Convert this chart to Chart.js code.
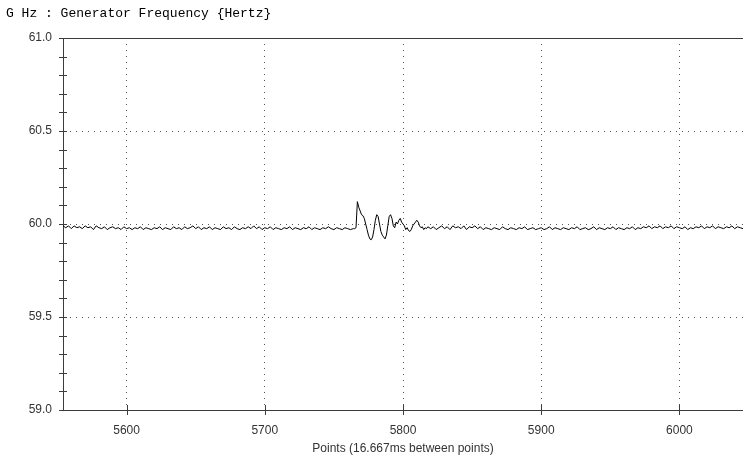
<!DOCTYPE html>
<html>
<head>
<meta charset="utf-8">
<style>
  body { margin: 0; background: #fff; }
  canvas { display: block; }
</style>
</head>
<body>
<canvas id="freqChart" width="743" height="456"></canvas>

<script src="https://cdn.jsdelivr.net/npm/chart.js"></script>

<script type="text/javascript">
    // sample values, Hz
    const preStart = 5554;   // step 2
    const preValues = [
        59.99, 59.98, 59.99, 59.975, 59.99, 59.98, 59.985, 59.975, 59.99, 59.98,
        59.985, 59.97, 59.99, 59.98, 59.975, 59.985, 59.97, 59.98, 59.985, 59.975,
        59.98, 59.97, 59.985, 59.975, 59.98, 59.97, 59.98, 59.975, 59.985, 59.97,
        59.98, 59.975, 59.97, 59.98, 59.975, 59.985, 59.97, 59.98, 59.975, 59.97,
        59.985, 59.975, 59.98, 59.97, 59.985, 59.975, 59.98, 59.99, 59.975, 59.985,
        59.97, 59.98, 59.975, 59.985, 59.97, 59.98, 59.975, 59.97, 59.985, 59.975,
        59.98, 59.97, 59.985, 59.975, 59.97, 59.98, 59.975, 59.985, 59.975, 59.99,
        59.975, 59.985, 59.97, 59.98, 59.975, 59.985, 59.97, 59.98, 59.975, 59.97,
        59.98, 59.975, 59.985, 59.97, 59.98, 59.975, 59.97, 59.98, 59.975, 59.985,
        59.97, 59.98, 59.975, 59.97, 59.98, 59.975, 59.985, 59.975, 59.97, 59.98,
        59.975, 59.97, 59.98, 59.975, 59.97, 59.975
    ];

    const eventStart = 5765; // step 1
    const eventValues = [
        59.975, 59.98, 60.12, 60.09, 60.07, 60.05, 60.045, 60.03, 60.0, 59.97,
        59.94, 59.92, 59.915, 59.93, 59.97, 60.02, 60.05, 60.04, 60.0, 59.96,
        59.94, 59.93, 59.92, 59.94, 59.99, 60.04, 60.05, 60.03, 59.99, 59.98,
        60.01, 60.0, 60.02, 60.03, 60.01, 60.0, 59.99, 59.97, 59.98, 59.965,
        59.96, 59.97, 59.99, 60.0, 60.01, 60.02, 60.01, 59.99, 59.98, 59.985,
        59.97, 59.98, 59.975, 59.985
    ];

    const postStart = 5820;  // step 2
    const postValues = [
        59.975, 59.985, 59.97, 59.98, 59.99, 59.975, 59.985, 59.97, 59.99, 59.98,
        59.985, 59.975, 59.99, 59.97, 59.985, 59.98, 59.99, 59.975, 59.985, 59.97,
        59.98, 59.975, 59.97, 59.98, 59.975, 59.97, 59.985, 59.975, 59.97, 59.98,
        59.975, 59.97, 59.98, 59.975, 59.985, 59.97, 59.975, 59.98, 59.97, 59.975,
        59.98, 59.97, 59.975, 59.985, 59.97, 59.98, 59.975, 59.97, 59.98, 59.975,
        59.97, 59.98, 59.975, 59.985, 59.97, 59.975, 59.98, 59.97, 59.975, 59.985,
        59.97, 59.98, 59.975, 59.97, 59.98, 59.975, 59.985, 59.97, 59.98, 59.975,
        59.97, 59.98, 59.975, 59.985, 59.97, 59.98, 59.975, 59.985, 59.98, 59.99,
        59.975, 59.985, 59.98, 59.99, 59.975, 59.985, 59.98, 59.99, 59.975, 59.985,
        59.98, 59.975, 59.985, 59.97, 59.98, 59.975, 59.985, 59.98, 59.99, 59.975,
        59.985, 59.98, 59.99, 59.975, 59.985, 59.98, 59.975, 59.985, 59.98, 59.99,
        59.975, 59.985, 59.98, 59.975
    ];

    const xTicks = [5600, 5700, 5800, 5900, 6000];
    const yTicks = [59.0, 59.5, 60.0, 60.5, 61.0];
    const yMinorTicks = [59.1, 59.2, 59.3, 59.4, 59.6, 59.7, 59.8, 59.9,
                         60.1, 60.2, 60.3, 60.4, 60.6, 60.7, 60.8, 60.9];

    const chartTitle = "G Hz : Generator Frequency {Hertz}";
    const xTitle = "Points (16.667ms between points)";

    function buildPoints() {
        let pts = [];
        preValues.forEach((v, i) => pts.push({ x: preStart + i * 2, y: v }));
        eventValues.forEach((v, i) => pts.push({ x: eventStart + i, y: v }));
        postValues.forEach((v, i) => pts.push({ x: postStart + i * 2, y: v }));
        return pts;
    }

    // title text, top border and the little cross ticks on both axes
    const decorations = {
        id: "decorations",
        afterDraw(chart) {
            let ctx = chart.ctx;
            let area = chart.chartArea;
            let xs = chart.scales.x;
            let ys = chart.scales.y;

            ctx.save();
            ctx.font = "13px 'Liberation Mono'";
            ctx.fillStyle = "#000";
            ctx.textBaseline = "middle";
            ctx.fillText(chartTitle, 6, 14);

            ctx.strokeStyle = "#3c3c3c";
            ctx.lineWidth = 1;
            ctx.beginPath();
            ctx.moveTo(area.left, area.top + 0.5);
            ctx.lineTo(area.right, area.top + 0.5);

            yTicks.concat(yMinorTicks).forEach(v => {
                let y = Math.round(ys.getPixelForValue(v)) + 0.5;
                ctx.moveTo(area.left - 4, y);
                ctx.lineTo(area.left + 4, y);
            });
            xTicks.forEach(v => {
                let x = Math.round(xs.getPixelForValue(v)) + 0.5;
                ctx.moveTo(x, area.bottom - 5);
                ctx.lineTo(x, area.bottom + 5);
            });
            ctx.stroke();
            ctx.restore();
        }
    };

    const ctx = document.getElementById("freqChart").getContext("2d");
    new Chart(ctx, {
        type: "line",
        data: {
            datasets: [{
                data: buildPoints(),
                borderColor: "#000",
                borderWidth: 1,
                pointRadius: 0,
                tension: 0,
                fill: false
            }]
        },
        options: {
            responsive: false,
            animation: false,
            layout: { padding: { top: 38, right: 0, left: 0, bottom: 0 } },
            plugins: {
                legend: { display: false },
                tooltip: { enabled: false },
                title: { display: false }
            },
            scales: {
                x: {
                    type: "linear",
                    min: 5554,
                    max: 6046,
                    afterBuildTicks: s => { s.ticks = xTicks.map(v => ({ value: v })); },
                    afterFit: s => { s.height = 46; },
                    grid: { color: "#555", drawTicks: false },
                    border: { display: true, color: "#3c3c3c", width: 1, dash: [1, 5] },
                    ticks: {
                        padding: 13,
                        color: "#333",
                        font: { family: "'Liberation Sans', Arial", size: 12 },
                        callback: v => String(v)
                    },
                    title: {
                        display: true,
                        text: xTitle,
                        color: "#333",
                        padding: { top: 0, bottom: 0 },
                        font: { family: "'Liberation Sans', Arial", size: 12 }
                    }
                },
                y: {
                    min: 59,
                    max: 61,
                    afterBuildTicks: s => { s.ticks = yTicks.map(v => ({ value: v })); },
                    afterFit: s => { s.width = 63; },
                    grid: {
                        color: c => (c.tick && (c.tick.value === 59 || c.tick.value === 61)) ? "rgba(0,0,0,0)" : "#555",
                        drawTicks: false
                    },
                    border: { display: true, color: "#3c3c3c", width: 1, dash: [1, 5] },
                    ticks: {
                        padding: 11,
                        color: "#333",
                        font: { family: "'Liberation Sans', Arial", size: 12 },
                        callback: v => v.toFixed(1)
                    }
                }
            }
        },
        plugins: [decorations]
    });
</script>
</body>
</html>
